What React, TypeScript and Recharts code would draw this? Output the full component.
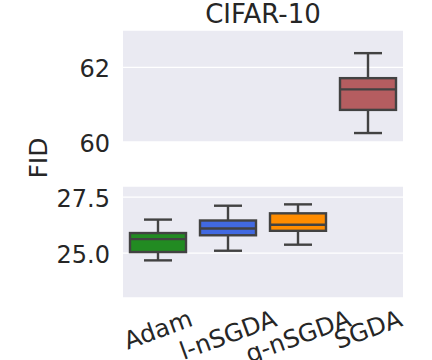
import React from 'react';
import { ComposedChart, Bar, XAxis, YAxis, CartesianGrid } from 'recharts';

const categories = ['Adam', 'l-nSGDA', 'g-nSGDA', 'SGDA'];
const whiskerLow = [24.68, 25.11, 25.38, 60.24];
const q1 = [25.05, 25.8, 26.0, 60.86];
const median = [25.63, 26.1, 26.27, 61.41];
const q3 = [25.9, 26.46, 26.78, 61.71];
const whiskerHigh = [26.5, 27.12, 27.18, 62.38];
const colors = ['#228b22', '#4169e1', '#ff8c00', '#b55d60'];
const topPanel = [false, false, false, true];

const topTicks = [60, 62];
const bottomTicks = [25, 27.5];
const topDomain = [60, 63];
const bottomDomain = [23, 28];

const FONT = '"DejaVu Sans", sans-serif';
const TEXT = '#262626';
const EDGE = '#424242';
const LW = 2.4;

const makeRows = (inTop: boolean) =>
  categories.map((c, i) => ({
    name: c,
    range: topPanel[i] === inTop ? [whiskerLow[i], whiskerHigh[i]] : null,
    low: whiskerLow[i],
    q1: q1[i],
    med: median[i],
    q3: q3[i],
    high: whiskerHigh[i],
    color: colors[i],
  }));

const topData = makeRows(true);
const bottomData = makeRows(false);

const BoxShape = (props: any) => {
  const { x, y, width, height, payload } = props;
  if (!payload || payload.range == null) return null;
  const top = Math.min(y, y + height);
  const bot = Math.max(y, y + height);
  const span = payload.high - payload.low;
  const pix = (v: number) => top + ((payload.high - v) / span) * (bot - top);
  const cx = x + width / 2;
  const capHalf = width / 4;
  const yq1 = pix(payload.q1);
  const yq3 = pix(payload.q3);
  const ym = pix(payload.med);
  return (
    <g>
      <line x1={cx} x2={cx} y1={top} y2={yq3} stroke={EDGE} strokeWidth={LW} />
      <line x1={cx} x2={cx} y1={yq1} y2={bot} stroke={EDGE} strokeWidth={LW} />
      <line x1={cx - capHalf} x2={cx + capHalf} y1={top} y2={top} stroke={EDGE} strokeWidth={LW} />
      <line x1={cx - capHalf} x2={cx + capHalf} y1={bot} y2={bot} stroke={EDGE} strokeWidth={LW} />
      <rect x={x} y={yq3} width={width} height={yq1 - yq3} fill={payload.color} stroke={EDGE} strokeWidth={LW} />
      <line x1={x} x2={x + width} y1={ym} y2={ym} stroke={EDGE} strokeWidth={LW} />
    </g>
  );
};

const YTick = (fmt: (v: number) => string) => (props: any) => {
  const { x, y, payload } = props;
  return (
    <text x={x - 13} y={y + 10} textAnchor="end" fontSize={24} fontFamily={FONT} fill={TEXT}>
      {fmt(payload.value)}
    </text>
  );
};

const CW: Record<string, number> = {
  A: 0.684, d: 0.635, a: 0.613, m: 0.974, l: 0.278, '-': 0.361, n: 0.634,
  S: 0.635, G: 0.775, D: 0.77, g: 0.635,
};

const XTick = (props: any) => {
  const { x, y, payload } = props;
  const fs = 24.5;
  const label: string = payload.value;
  const w = label.split('').reduce((s, c) => s + (CW[c] ?? 0.6), 0) * fs;
  const h = 1.164 * fs;
  const ang = (20 * Math.PI) / 180;
  const H = w * Math.sin(ang) + h * Math.cos(ang);
  const cy = y + 6 + H / 2;
  return (
    <text
      x={x}
      y={cy + 0.346 * fs}
      textAnchor="middle"
      fontSize={fs}
      fontFamily={FONT}
      fill={TEXT}
      transform={`rotate(-20, ${x}, ${cy})`}
    >
      {label}
    </text>
  );
};

export default function App() {
  return (
    <div style={{ position: 'absolute', left: 0, top: 0, width: 432, height: 360, background: '#fff', overflow: 'hidden' }}>
      <svg width={432} height={360} style={{ position: 'absolute', left: 0, top: 0 }}>
        <text x={263} y={23} textAnchor="middle" fontSize={26} fontFamily={FONT} fill={TEXT}>
          CIFAR-10
        </text>
        <text
          x={47}
          y={158}
          textAnchor="middle"
          fontSize={25}
          fontFamily={FONT}
          fill={TEXT}
          transform="rotate(-90, 47, 158)"
        >
          FID
        </text>
      </svg>
      <div style={{ position: 'absolute', left: 0, top: 0 }}>
        <ComposedChart width={432} height={175} data={topData} margin={{ top: 30, right: 29, bottom: 33, left: 0 }}>
          <CartesianGrid vertical={false} stroke="#ffffff" strokeWidth={1.3} fill="#eaeaf2" />
          <XAxis dataKey="name" hide />
          <YAxis
            type="number"
            domain={topDomain}
            ticks={topTicks}
            interval={0}
            allowDataOverflow
            width={123}
            axisLine={false}
            tickLine={false}
            tickSize={0}
            tickMargin={0}
            tick={YTick((v) => String(v))}
          />
          <Bar dataKey="range" barSize={56} shape={<BoxShape />} isAnimationActive={false} />
        </ComposedChart>
      </div>
      <div style={{ position: 'absolute', left: 0, top: 150 }}>
        <ComposedChart width={432} height={210} data={bottomData} margin={{ top: 36, right: 29, bottom: 0, left: 0 }}>
          <CartesianGrid vertical={false} stroke="#ffffff" strokeWidth={1.3} fill="#eaeaf2" />
          <XAxis
            dataKey="name"
            height={62}
            interval={0}
            axisLine={false}
            tickLine={false}
            tickSize={0}
            tickMargin={0}
            tick={<XTick />}
          />
          <YAxis
            type="number"
            domain={bottomDomain}
            ticks={bottomTicks}
            interval={0}
            allowDataOverflow
            width={123}
            axisLine={false}
            tickLine={false}
            tickSize={0}
            tickMargin={0}
            tick={YTick((v) => v.toFixed(1))}
          />
          <Bar dataKey="range" barSize={56} shape={<BoxShape />} isAnimationActive={false} />
        </ComposedChart>
      </div>
    </div>
  );
}
